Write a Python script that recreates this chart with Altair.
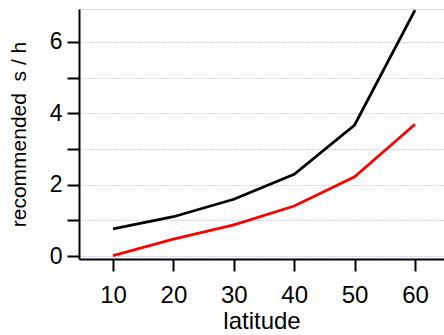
import altair as alt
import pandas as pd

latitude = [10, 20, 30, 40, 50, 60]
upper = [0.76, 1.10, 1.59, 2.29, 3.67, 6.89]
lower = [0.01, 0.47, 0.87, 1.40, 2.22, 3.69]
series = ["upper", "lower"]
colors = ["#000000", "#ff0000"]
y_ticks = [0, 1, 2, 3, 4, 5, 6]
x_ticks = [10, 20, 30, 40, 50, 60]

rows = []
for lat, u, l in zip(latitude, upper, lower):
    rows.append({"lat": lat, "value": u, "series": "upper"})
    rows.append({"lat": lat, "value": l, "series": "lower"})
df = pd.DataFrame(rows)

FONT = "Liberation Sans"

chart = alt.Chart(df).mark_line(strokeWidth=2.8, clip=True).encode(
    x=alt.X("lat:Q",
            scale=alt.Scale(domain=[4.37, 64.8], nice=False, zero=False),
            axis=alt.Axis(values=x_ticks, title="latitude", grid=False,
                          tickSize=12, tickWidth=2, tickColor="#000000",
                          domainColor="#000000", domainWidth=2,
                          labelFontSize=24, labelFont=FONT, labelColor="#000000",
                          labelPadding=12,
                          titleFontSize=24, titleFont=FONT, titleFontWeight="normal",
                          titleColor="#000000", titlePadding=2)),
    y=alt.Y("value:Q",
            scale=alt.Scale(domain=[-0.084, 6.92], nice=False, zero=False),
            axis=alt.Axis(values=y_ticks, title="recommended\u00a0\u00a0s / h", grid=True,
                          gridColor="#a4a4dc", gridDash=[1, 2], gridWidth=1,
                          labelExpr="datum.value % 2 == 0 ? datum.label : ''",
                          tickSize=12, tickWidth=2, tickColor="#000000",
                          domainColor="#000000", domainWidth=2,
                          labelFontSize=23, labelFont=FONT, labelColor="#000000",
                          labelPadding=5,
                          titleFontSize=21, titleFont=FONT, titleFontWeight="normal",
                          titleColor="#000000", titlePadding=20)),
    color=alt.Color("series:N", scale=alt.Scale(domain=series, range=colors), legend=None),
    detail="series:N",
).properties(
    width=365, height=250,
    padding={"left": 79, "top": 9, "right": 0, "bottom": 76},
    autosize=alt.AutoSizeParams(type="none"),
).configure_view(stroke=None).configure(background="#ffffff")

chart.save("out.html", embed_options={"renderer": "svg", "actions": False})
